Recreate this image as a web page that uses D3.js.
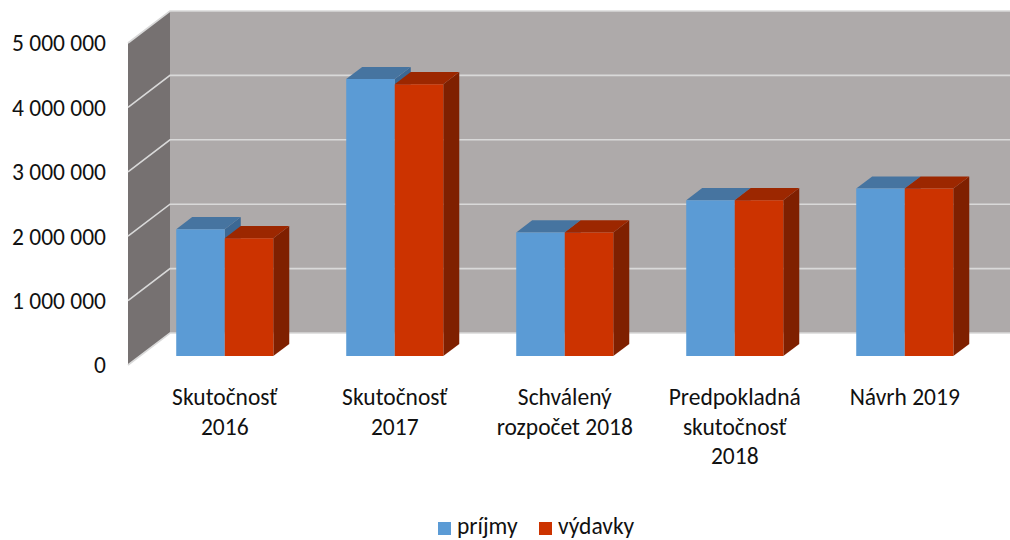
<!DOCTYPE html>
<html>
<head>
<meta charset="utf-8">
<script src="https://cdn.jsdelivr.net/npm/d3@7"></script>
<style>
  html, body { margin: 0; padding: 0; background: #fff; }
  svg { display: block; }
  text { font-family: Carlito, Lato, "Open Sans", sans-serif; fill: #111; }
</style>
</head>
<body>
<svg id="chart" width="1010" height="540"></svg>
<script>
// ---- data ----
const categories = [
  ["Skutočnosť", "2016"],
  ["Skutočnosť", "2017"],
  ["Schválený", "rozpočet 2018"],
  ["Predpokladná", "skutočnosť", "2018"],
  ["Návrh 2019"]
];
const seriesNames = ["príjmy", "výdavky"];
const prijmy  = [1970000, 4300000, 1920000, 2420000, 2600000];
const vydavky = [1830000, 4220000, 1920000, 2420000, 2600000];
const yTicks = [0, 1000000, 2000000, 3000000, 4000000, 5000000];
const yTickLabels = ["0", "1 000 000", "2 000 000", "3 000 000", "4 000 000", "5 000 000"];

// ---- styles ----
const colors = {
  "príjmy":  { front: "#5B9BD5", top: "#4674A0", side: "#3C6894" },
  "výdavky": { front: "#CC3300", top: "#9C2700", side: "#7F2000" }
};
const backWallColor = "#AEAAAA";
const sideWallColor = "#767171";
const gridColor = "#D9D9D9";

// ---- geometry ----
const depthX = 42, depthY = -32;       // full depth offset of walls
const barF0 = 0.28, barF1 = 0.66;      // bar front/back depth fractions
const fontSize = 23.5;

const svg = d3.select("#chart");
const y = d3.scaleLinear().domain([0, 5000000]).range([365, 43]);
const keys = categories.map((c, i) => i);
const x = d3.scaleBand().domain(keys).range([128, 978])
  .paddingInner(0.429).paddingOuter(0.2145);
const xs = d3.scaleBand().domain(seriesNames).range([0, x.bandwidth()]);

const P = (px, py, f) => [px + depthX * f, py + depthY * f];
const poly = pts => "M" + pts.map(p => p.join(",")).join("L") + "Z";

const x0 = x.range()[0], x1 = x.range()[1];
const yBot = y(0), yTop = y(5000000);

// back wall
svg.append("path")
  .attr("d", poly([P(x0, yTop, 1), P(x1, yTop, 1), P(x1, yBot, 1), P(x0, yBot, 1)]))
  .attr("fill", backWallColor);
// side wall
svg.append("path")
  .attr("d", poly([P(x0, yTop, 0), P(x0, yTop, 1), P(x0, yBot, 1), P(x0, yBot, 0)]))
  .attr("fill", sideWallColor);

// gridlines
const grid = svg.append("g").attr("stroke", gridColor).attr("stroke-width", 1.6).attr("fill", "none");
yTicks.forEach(t => {
  const a = P(x0, y(t), 0), b = P(x0, y(t), 1), c = P(x1, y(t), 1);
  grid.append("path").attr("d", "M" + a.join(",") + "L" + b.join(",") + "L" + c.join(","));
});

// y axis labels
const yAxisG = svg.append("g");
yAxisG.selectAll("text").data(yTicks).join("text")
  .attr("x", 106).attr("y", d => y(d))
  .attr("dy", "0.36em")
  .attr("text-anchor", "end")
  .attr("font-size", fontSize)
  .text((d, i) => yTickLabels[i]);

// bars
const barData = [];
keys.forEach(i => {
  barData.push({ i, s: "príjmy", v: prijmy[i] });
  barData.push({ i, s: "výdavky", v: vydavky[i] });
});
const bars = svg.append("g");
barData.forEach(d => {
  const bx0 = x(d.i) + xs(d.s), bx1 = bx0 + xs.bandwidth();
  const by = y(d.v), b0 = y(0);
  const c = colors[d.s];
  const g = bars.append("g");
  g.append("path").attr("fill", c.side)
    .attr("d", poly([P(bx1, by, barF0), P(bx1, by, barF1), P(bx1, b0, barF1), P(bx1, b0, barF0)]));
  g.append("path").attr("fill", c.top)
    .attr("d", poly([P(bx0, by, barF0), P(bx0, by, barF1), P(bx1, by, barF1), P(bx1, by, barF0)]));
  g.append("path").attr("fill", c.front)
    .attr("d", poly([P(bx0, by, barF0), P(bx1, by, barF0), P(bx1, b0, barF0), P(bx0, b0, barF0)]));
});

// category labels
const catG = svg.append("g");
categories.forEach((lines, i) => {
  const cx = x(i) + x.bandwidth() / 2 + depthX * barF0;
  const t = catG.append("text").attr("text-anchor", "middle").attr("font-size", fontSize);
  lines.forEach((ln, k) => {
    t.append("tspan").attr("x", cx).attr("y", 405 + k * 29.5).text(ln);
  });
});

// legend
const legend = svg.append("g");
const legendX = [438, 539];
seriesNames.forEach((s, k) => {
  legend.append("rect").attr("x", legendX[k]).attr("y", 522).attr("width", 13).attr("height", 13)
    .attr("fill", colors[s].front);
  legend.append("text").attr("x", legendX[k] + 19).attr("y", 534)
    .attr("font-size", fontSize).text(s);
});
</script>
</body>
</html>
